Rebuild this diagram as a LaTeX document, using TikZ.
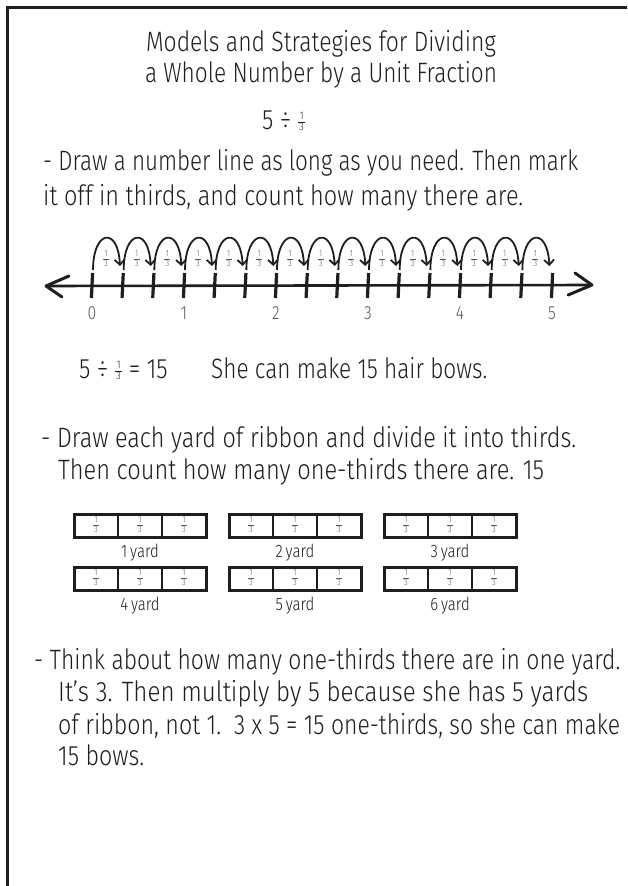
\documentclass[tikz,border=0pt]{standalone}
\usepackage{fontspec}
\IfFontExistsTF{Fira Sans Light}{\setmainfont{Fira Sans Light}[FakeStretch=0.83]}{\setmainfont{Fira Sans}[FakeStretch=0.83]}
\usetikzlibrary{arrows.meta}
\definecolor{ink}{HTML}{1E1E1E}
\definecolor{soft}{HTML}{5A5A5A}
\newcommand\fr[1]{\ensuremath{\vcenter{\hbox{\fontsize{#1}{#1}\selectfont\setlength\tabcolsep{0pt}\setlength\arrayrulewidth{0.7pt}\renewcommand\arraystretch{1}\begin{tabular}{c}\,1\,\\\hline 3\end{tabular}}}}}
\newcommand\fitto[2]{\resizebox{#1}{\height}{#2}}
\tikzset{
 body/.style={inner sep=0pt, anchor=base west, text=ink, font=\fontsize{28}{32}\selectfont},
 ttl/.style={body, anchor=base},
 numlab/.style={inner sep=0pt, anchor=base, text=soft, font=\fontsize{19}{22}\selectfont},
 yardlab/.style={inner sep=0pt, anchor=base, text=ink, font=\fontsize{18}{20}\selectfont},
 fracnode/.style={inner sep=0pt, text=soft},
 hop/.style={line width=1.8pt, draw=ink, -{Straight Barb[length=5pt,width=10pt,line width=1.8pt]}},
 tickmark/.style={line width=3.2pt, draw=ink},
 chev/.style={line width=3pt, draw=ink, line cap=round, line join=round},
 ribbon/.style={line width=3pt, draw=ink},
 divider/.style={line width=2.4pt, draw=ink},
 frameline/.style={line width=3pt, draw=ink},
}
\begin{document}
\begin{tikzpicture}[x=1pt,y=-1pt]
\useasboundingbox (0,0) rectangle (627,886);
\clip (0,0) rectangle (627,886);
\fill[white] (0,0) rectangle (627,886);
% frame
\draw[frameline] (627,7) -- (7,7) -- (7,886);
% title
\node[ttl] (t1) at (321,51) {\fitto{350pt}{Models and Strategies for Dividing}};
\node[ttl] (t2) at (321,82) {\fitto{352pt}{a Whole Number by a Unit Fraction}};
\node[body] (t3) at (262,129) {5 ÷ \fr{11}};
% first strategy
\node[body] (a1) at (43,170) {\fitto{535pt}{- Draw a number line as long as you need. Then mark}};
\node[body] (a2) at (43,205) {\fitto{480pt}{it off in thirds, and count how many there are.}};
% number line
\draw[line width=2.6pt, draw=ink] (46,286) -- (592,285);
\draw[chev] (69,276) -- (46,286) -- (62,297);
\draw[chev] (575,273) -- (592,285) -- (568,295);
\foreach \i in {0,...,15}{
  \pgfmathsetmacro\xx{92+30.67*\i}
  \draw[tickmark] (\xx+0.6,273) -- (\xx-0.6,298);
}
\foreach \i in {0,...,14}{
  \pgfmathsetmacro\xx{92+30.67*\i}
  \draw[hop] (\xx+1,270) .. controls (\xx+1,230) and (\xx+26,226) .. (\xx+28,266);
  \node[fracnode] (f\i) at (\xx+14,259.5) {\fr{9}};
}
\foreach \n in {0,...,5}{
  \pgfmathsetmacro\xx{92+92*\n}
  \node[numlab] (n\n) at (\xx,319) {\n};
}
\node[body] (a3) at (79,378) {5 ÷ \fr{11} = 15};
\node[body] (a4) at (211,378) {\fitto{276pt}{She can make 15 hair bows.}};
% second strategy
\node[body] (b1) at (41,447) {\fitto{535pt}{- Draw each yard of ribbon and divide it into thirds.}};
\node[body] (b2) at (58,479) {\fitto{486pt}{Then count how many one-thirds there are. 15}};
\foreach \r/\yy in {0/514,1/567}{
  \foreach \c/\xx in {0/74,1/229,2/384}{
    \pgfmathtruncatemacro\k{3*\r+\c+1}
    \draw[divider] (\xx+44,\yy) -- (\xx+44,\yy+23) (\xx+88,\yy) -- (\xx+88,\yy+23);
    \draw[ribbon] (\xx,\yy) rectangle (\xx+132,\yy+23);
    \foreach \m in {0,1,2}{
      \node[fracnode] (r\k\m) at (\xx+22+44*\m,\yy+11.5) {\fr{9}};
    }
    \node[yardlab] (y\k) at (\xx+66,\yy+43) {\k\,yard};
  }
}
% third strategy
\node[body] (c1) at (34,669) {\fitto{586pt}{- Think about how many one-thirds there are in one yard.}};
\node[body] (c2) at (58,701) {\fitto{530pt}{It's 3. Then multiply by 5 because she has 5 yards}};
\node[body] (c3) at (58,734) {of ribbon, not 1.};
\node[body] (c4) at (234,734) {\fitto{386pt}{3 x 5 = 15 one-thirds, so she can make}};
\node[body] (c5) at (58,765) {15 bows.};
\end{tikzpicture}
\end{document}
